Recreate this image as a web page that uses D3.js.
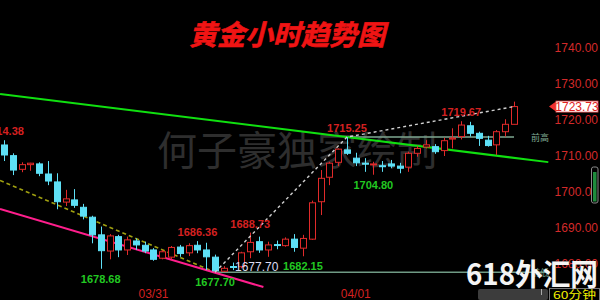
<!DOCTYPE html>
<html><head><meta charset="utf-8">
<script src="https://cdn.jsdelivr.net/npm/d3@7"></script>
<style>html,body{margin:0;padding:0;background:#000;overflow:hidden}</style>
</head><body>
<svg id="chart" width="600" height="300"></svg>
<script>
// Gold, 60-minute candles
const opens  = [1713.06,1710.1,1706.3,1707.6,1707.8,1705.0,1702.8,1697.2,1697.8,1695.75,
                1693.0,1688.1,1683.6,1687.6,1683.9,1686.4,1685.2,1683.9,1681.6,1681.9,
                1684.7,1683.1,1685.2,1683.9,1681.9,1678.0,1679.3,1679.25,1683.4,1686.2,
                1683.9,1685.4,1685.1,1686.9,1684.4,1686.9,1697.3,1704.1,1708.25,1711.7,
                1709.4,1708.0,1707.7,1707.3,1707.8,1707.2,1706.9,1710.75,1712.5,1712.6,
                1711.5,1714.7,1715.4,1718.4,1716.3,1714.4,1713.1,1716.75,1718.8];
const highs  = [1714.38,1710.75,1708.25,1708.1,1708.25,1708.6,1705.2,1700.6,1700.8,1696.7,
                1693.4,1690.4,1688.3,1688.1,1687.6,1687.1,1686.2,1684.4,1683.9,1685.0,
                1685.3,1685.75,1686.36,1685.9,1682.6,1679.4,1680.4,1683.4,1688.73,1687.6,
                1686.2,1686.5,1687.4,1688.3,1688.1,1697.6,1706.1,1708.4,1712.1,1715.25,
                1710.9,1709.4,1708.4,1708.6,1708.9,1708.1,1711.2,1712.8,1714.4,1713.3,
                1715.1,1717.7,1719.67,1719.5,1716.75,1715.6,1717.2,1720.2,1725.1];
const lows   = [1708.6,1704.7,1705.5,1705.9,1704.4,1701.9,1695.2,1696.1,1695.6,1692.4,
                1685.75,1678.68,1681.3,1681.9,1682.5,1683.9,1683.0,1680.9,1681.3,1681.3,
                1682.0,1682.2,1683.0,1678.3,1677.70,1677.8,1678.3,1678.8,1681.6,1683.1,
                1682.0,1684.1,1684.8,1683.4,1682.15,1686.7,1693.6,1701.9,1707.2,1710.3,
                1707.2,1705.6,1704.80,1705.6,1706.6,1705.2,1705.6,1709.8,1712.1,1710.6,
                1710.0,1712.1,1714.6,1715.4,1712.8,1712.6,1710.3,1715.4,1718.8];
const closes = [1710.28,1706.1,1707.6,1708.0,1705.2,1703.05,1697.3,1698.1,1696.3,1693.3,
                1688.1,1683.7,1687.8,1683.9,1686.7,1685.3,1683.6,1681.3,1683.4,1684.6,
                1682.9,1685.1,1683.9,1682.0,1678.1,1678.8,1679.2,1683.1,1686.0,1683.9,
                1685.3,1685.2,1686.9,1684.6,1687.1,1697.0,1703.8,1708.0,1711.9,1710.75,
                1708.1,1707.9,1707.8,1707.2,1707.2,1706.6,1710.75,1712.1,1713.1,1711.2,
                1714.25,1715.0,1718.6,1716.3,1714.9,1712.9,1716.75,1718.8,1723.73];

const priceTicks = [1680,1690,1700,1710,1720,1730,1740];
const dateIndex  = [17, 40];
const dateText   = ["03/31", "04/01"];
const highMarkIndex = [0, 22, 28, 39, 52];
const lowMarkIndex  = [11, 24, 34, 42];
const lastPrice = 1723.73;
const prevHigh = 1715.25, prevHighFrom = 39;
const prevLow  = 1677.70, prevLowFrom  = 24;

// hand-drawn trend lines: [index, price] end points
const greenTrend = [[-0.45, 1727.2], [61.9, 1708.3]];
const pinkTrend  = [[-0.45, 1695.3], [29.5, 1673.6]];
const oliveTrend = [[-0.45, 1703.2], [24, 1677.7]];
const whiteTrend = [[24, 1677.7], [39, 1715.25], [58, 1723.73]];

const svg = d3.select("#chart");
svg.append("rect").attr("width", 600).attr("height", 300).attr("fill", "#000");

const x = d3.scaleLinear().domain([0, 58]).range([4, 514]);
const y = d3.scaleLinear().domain([1680, 1740]).range([264, 48]);

const RED = "#e02a2a", CYAN = "#5ee0f6", LBL_RED = "#d42020", LBL_GREEN = "#22c822";
const numFont = "'Liberation Sans', Arial, sans-serif";
const cjkFont = "'Noto Sans CJK SC', sans-serif";

// author watermark behind everything
svg.append("text").attr("x", 157).attr("y", 165)
  .attr("font-family", cjkFont).attr("font-size", 40).attr("fill", "#2e2e2e")
  .text("何子豪独家绘制");

// title
svg.append("text").attr("x", 287).attr("y", 45).attr("text-anchor", "middle")
  .attr("font-family", cjkFont).attr("font-size", 28).attr("font-weight", 700)
  .attr("font-style", "italic").attr("fill", "#f01414")
  .attr("stroke", "#f01414").attr("stroke-width", 0.6)
  .text("黄金小时趋势图");

const line = d3.line().x(d => x(d[0])).y(d => y(d[1]));

// support/resistance levels
svg.append("line").attr("x1", x(prevHighFrom)).attr("x2", 514)
  .attr("y1", y(prevHigh)).attr("y2", y(prevHigh))
  .attr("stroke", "#7fa892").attr("stroke-width", 1.5);
svg.append("line").attr("x1", x(prevLowFrom)).attr("x2", 546)
  .attr("y1", y(prevLow)).attr("y2", y(prevLow))
  .attr("stroke", "#6f9a84").attr("stroke-width", 1.5);

// trend lines
svg.append("path").attr("d", line(oliveTrend)).attr("fill", "none")
  .attr("stroke", "#a0a010").attr("stroke-width", 1.6).attr("stroke-dasharray", "4,3");
svg.append("path").attr("d", line(pinkTrend)).attr("fill", "none")
  .attr("stroke", "#ff1e8c").attr("stroke-width", 2);
svg.append("path").attr("d", line(greenTrend)).attr("fill", "none")
  .attr("stroke", "#10e010").attr("stroke-width", 2);

// candles
const bars = d3.range(opens.length).map(i => ({
  i, o: opens[i], h: highs[i], l: lows[i], c: closes[i], up: closes[i] >= opens[i]
}));
const bw = 6;
const g = svg.append("g");
g.selectAll("line.wick").data(bars).join("line")
  .attr("x1", d => Math.round(x(d.i)) + 0.5).attr("x2", d => Math.round(x(d.i)) + 0.5)
  .attr("y1", d => y(d.h)).attr("y2", d => y(d.l))
  .attr("stroke", d => d.up ? RED : CYAN).attr("stroke-width", 1);
g.selectAll("rect.body").data(bars).join("rect")
  .attr("x", d => Math.round(x(d.i)) - bw / 2 + 0.5)
  .attr("y", d => y(Math.max(d.o, d.c)))
  .attr("width", bw)
  .attr("height", d => Math.max(1, Math.abs(y(d.o) - y(d.c))))
  .attr("fill", d => d.up ? "#000" : CYAN)
  .attr("stroke", d => d.up ? RED : CYAN).attr("stroke-width", 1);

// white dashed path through swing points
svg.append("path").attr("d", line(whiteTrend)).attr("fill", "none")
  .attr("stroke", "#cfcfcf").attr("stroke-width", 1.4).attr("stroke-dasharray", "3,3");

// swing high / low labels
svg.selectAll("text.hi").data(highMarkIndex).join("text")
  .attr("x", i => x(i)).attr("y", i => y(highs[i]) - 5).attr("text-anchor", "middle")
  .attr("font-family", numFont).attr("font-size", 11).attr("font-weight", 700)
  .attr("fill", LBL_RED).text(i => highs[i].toFixed(2));
svg.selectAll("text.lo").data(lowMarkIndex).join("text")
  .attr("x", i => x(i)).attr("y", i => y(lows[i]) + 14).attr("text-anchor", "middle")
  .attr("font-family", numFont).attr("font-size", 11).attr("font-weight", 700)
  .attr("fill", LBL_GREEN).text(i => lows[i].toFixed(2));

// level price tag
svg.append("text").attr("x", 235).attr("y", y(prevLow) - 1)
  .attr("font-family", numFont).attr("font-size", 12)
  .attr("fill", "#dcdcf0").text(prevLow.toFixed(2));
svg.append("text").attr("x", 531).attr("y", y(prevHigh) + 4)
  .attr("font-family", cjkFont).attr("font-size", 9).attr("fill", "#7fa892").text("前高");
svg.append("text").attr("x", 531).attr("y", y(prevLow) + 4)
  .attr("font-family", cjkFont).attr("font-size", 9).attr("fill", "#6f9a84").text("前低");

// date labels
svg.selectAll("text.date").data(dateIndex).join("text")
  .attr("x", i => x(i)).attr("y", 298).attr("text-anchor", "middle")
  .attr("font-family", numFont).attr("font-size", 12).attr("fill", LBL_RED)
  .text((i, k) => dateText[k]);

// right price axis
const axis = svg.append("g").attr("transform", "translate(598,0)")
  .call(d3.axisRight(y).tickValues(priceTicks).tickFormat(d3.format(".2f")).tickSize(0));
axis.select(".domain").remove();
axis.selectAll("text").attr("x", 0).attr("text-anchor", "end")
  .attr("font-family", numFont).attr("font-size", 12).attr("fill", "#d42a2a");

// last price tag
const ly = y(lastPrice);
svg.append("path").attr("d", `M549,${ly} L556,${ly - 5} L556,${ly + 5} Z`).attr("fill", "#f03030");
svg.append("rect").attr("x", 556).attr("y", ly - 5.5).attr("width", 42).attr("height", 11)
  .attr("fill", "#fff").attr("stroke", "#f05050").attr("stroke-width", 0.8);
svg.append("text").attr("x", 577).attr("y", ly + 4.5).attr("text-anchor", "middle")
  .attr("font-family", numFont).attr("font-size", 12).attr("fill", "#e02020")
  .text(lastPrice.toFixed(2));

// volume gauge
svg.append("rect").attr("x", 591.5).attr("y", 167).attr("width", 6.5).attr("height", 36).attr("rx", 2)
  .attr("fill", "#000").attr("stroke", "#8a8a8a");
svg.append("rect").attr("x", 593).attr("y", 172).attr("width", 3.5).attr("height", 29.5)
  .attr("fill", "#1e8c3c");

// bottom bar and period tag
svg.append("rect").attr("x", 478).attr("y", 289).attr("width", 70).attr("height", 11).attr("rx", 2)
  .attr("fill", "#3c3c3c");
svg.append("line").attr("x1", 541.5).attr("x2", 541.5).attr("y1", 289).attr("y2", 295)
  .attr("stroke", "#aaa");
svg.append("rect").attr("x", 549.5).attr("y", 288.5).attr("width", 50).attr("height", 12)
  .attr("fill", "#000").attr("stroke", "#777");
svg.append("text").attr("x", 553).attr("y", 298.5)
  .attr("font-family", cjkFont).attr("font-size", 11).attr("fill", "#f2f000")
  .attr("textLength", 43).attr("lengthAdjust", "spacingAndGlyphs").text("60分钟");

// site mark
svg.append("text").attr("x", 466).attr("y", 285)
  .attr("font-family", cjkFont).attr("font-size", 30).attr("font-weight", 700)
  .attr("fill", "#f4f4f4").attr("textLength", 132).attr("lengthAdjust", "spacingAndGlyphs")
  .text("618外汇网");
</script>
</body></html>
